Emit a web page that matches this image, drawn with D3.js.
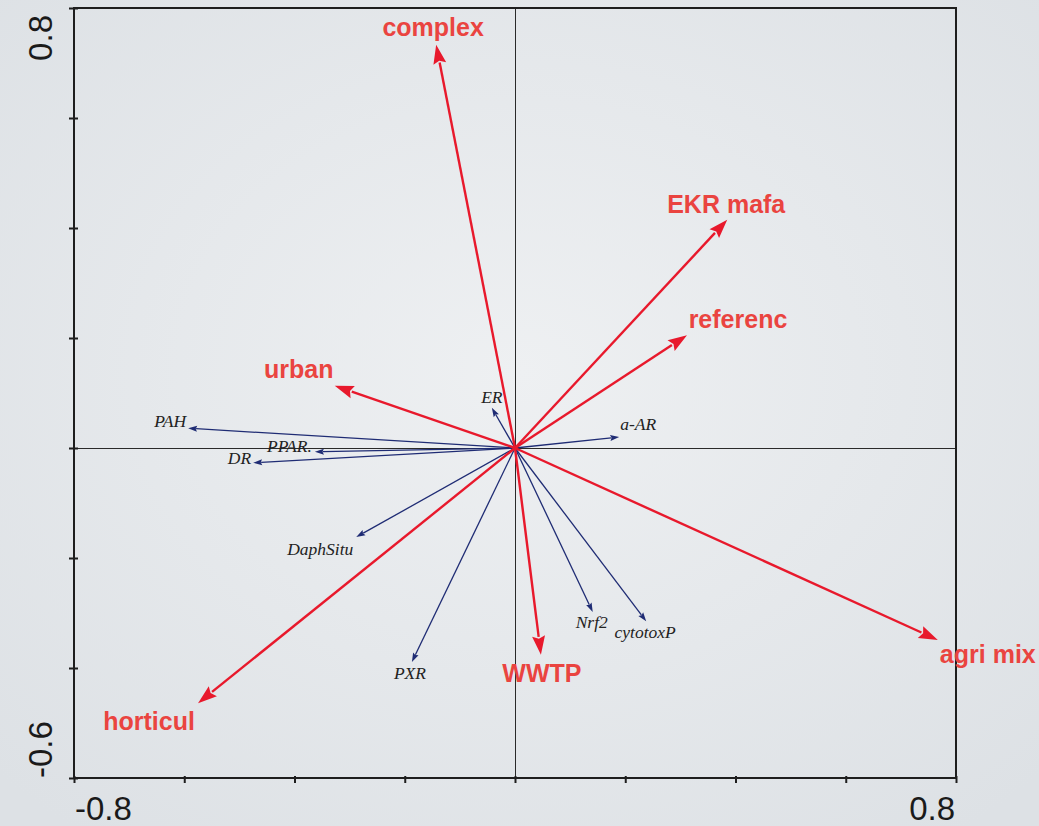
<!DOCTYPE html>
<html><head><meta charset="utf-8">
<script src="https://cdn.jsdelivr.net/npm/d3@7"></script>
<style>html,body{margin:0;padding:0;background:#e4e7ea;overflow:hidden}</style>
</head><body>
<svg id="chart" width="1039" height="826"></svg>
<script>
// ---- data ----
const envNames = ["complex","EKR mafa","referenc","urban","horticul","WWTP","agri mix"];
const envX = [-0.143, 0.385, 0.312, -0.327, -0.575, 0.047, 0.767];
const envY = [0.733, 0.415, 0.205, 0.113, -0.464, -0.376, -0.349];

const respNames = ["PAH","PPAR.","DR","ER","a-AR","DaphSitu","PXR","Nrf2","cytotoxP"];
const respX = [-0.593, -0.363, -0.475, -0.042, 0.189, -0.288, -0.187, 0.141, 0.238];
const respY = [0.036, -0.007, -0.027, 0.073, 0.020, -0.162, -0.389, -0.298, -0.315];

const xTicks = [-0.8,-0.6,-0.4,-0.2,0,0.2,0.4,0.6,0.8];
const yTicks = [-0.6,-0.4,-0.2,0,0.2,0.4,0.6,0.8];
const xTickLabels = ["-0.8","0.8"];
const yTickLabels = ["-0.6","0.8"];

// ---- drawing ----
const svg = d3.select("#chart");
const defs = svg.append("defs");
const grad = defs.append("radialGradient").attr("id","bg").attr("cx","50%").attr("cy","45%").attr("r","70%");
grad.append("stop").attr("offset","0%").attr("stop-color","#eef0f2");
grad.append("stop").attr("offset","100%").attr("stop-color","#dde1e5");
svg.append("rect").attr("width",1039).attr("height",826).attr("fill","url(#bg)");

const L=74, R=956, T=8, B=778;
const x = d3.scaleLinear().domain([-0.8,0.8]).range([L,R]);
const y = d3.scaleLinear().domain([-0.6,0.8]).range([B,T]);

// zero lines (half-pixel aligned for crispness)
svg.append("line").attr("x1",x(0)+0.5).attr("x2",x(0)+0.5).attr("y1",T).attr("y2",B).attr("stroke","#2a2a2a").attr("stroke-width",1);
svg.append("line").attr("x1",L).attr("x2",R).attr("y1",y(0)+0.5).attr("y2",y(0)+0.5).attr("stroke","#2a2a2a").attr("stroke-width",1);

// frame
svg.append("rect").attr("x",L).attr("y",T).attr("width",R-L).attr("height",B-T)
  .attr("fill","none").attr("stroke","#1e1e1e").attr("stroke-width",2);

// axes ticks
const xAxis = d3.axisBottom(x).tickValues(xTicks).tickSize(5).tickFormat("");
const gx = svg.append("g").attr("transform",`translate(0,${B})`).call(xAxis);
gx.select(".domain").remove();
gx.selectAll(".tick line").attr("y1",-2).attr("y2",5).attr("stroke","#1e1e1e").attr("stroke-width",2);
const yAxis = d3.axisLeft(y).tickValues(yTicks).tickSize(5).tickFormat("");
const gy = svg.append("g").attr("transform",`translate(${L},0)`).call(yAxis);
gy.select(".domain").remove();
gy.selectAll(".tick line").attr("x1",4).attr("x2",-5).attr("stroke","#1e1e1e").attr("stroke-width",2);

// tick labels
const tickFont = "'Liberation Sans', Arial, Helvetica, sans-serif";
svg.append("text").attr("x",x(-0.8)+1).attr("y",820).attr("text-anchor","start")
  .attr("font-family",tickFont).attr("font-size",33).attr("fill","#1a1a1a").text(xTickLabels[0]);
svg.append("text").attr("x",x(0.8)-1).attr("y",820).attr("text-anchor","end")
  .attr("font-family",tickFont).attr("font-size",33).attr("fill","#1a1a1a").text(xTickLabels[1]);
svg.append("text").attr("transform",`translate(52,${y(-0.6)}) rotate(-90)`).attr("text-anchor","start")
  .attr("font-family",tickFont).attr("font-size",33).attr("fill","#1a1a1a").text(yTickLabels[0]);
svg.append("text").attr("transform",`translate(52,${y(0.8)+7}) rotate(-90)`).attr("text-anchor","end")
  .attr("font-family",tickFont).attr("font-size",33).attr("fill","#1a1a1a").text(yTickLabels[1]);

// arrow helper
function arrow(g, x1,y1,x2,y2, color, w, hl, hw){
  const dx=x2-x1, dy=y2-y1, len=Math.hypot(dx,dy), ux=dx/len, uy=dy/len;
  const bx=x2-ux*hl, by=y2-uy*hl;
  g.append("line").attr("x1",x1).attr("y1",y1).attr("x2",bx+ux*1).attr("y2",by+uy*1)
    .attr("stroke",color).attr("stroke-width",w);
  const px=-uy, py=ux;
  g.append("path").attr("d",`M${x2},${y2}L${bx+px*hw/2},${by+py*hw/2}L${bx+ux*hl*0.15},${by+uy*hl*0.15}L${bx-px*hw/2},${by-py*hw/2}Z`)
    .attr("fill",color);
}

// response (blue) arrows
const gb = svg.append("g");
const blueOff = {
  "PAH":[-2,-1,"end"], "PPAR.":[-3,0,"end"], "DR":[-2,1,"end"], "ER":[0,-5,"middle"],
  "a-AR":[1,-7,"start"], "DaphSitu":[-36,18,"middle"], "PXR":[-2,17,"middle"],
  "Nrf2":[-1,16,"middle"], "cytotoxP":[-1,17,"middle"]
};
respNames.forEach((n,i)=>{
  const tx=x(respX[i]), ty=y(respY[i]);
  arrow(gb, x(0), y(0), tx, ty, "#1f2c74", 1.3, 9, 6);
  const o=blueOff[n];
  gb.append("text").attr("x",tx+o[0]).attr("y",ty+o[1]).attr("text-anchor",o[2])
    .attr("font-family","'Liberation Serif','Times New Roman',serif").attr("font-style","italic")
    .attr("font-size",17.5).attr("fill","#222").text(n);
});

// environmental (red) arrows
const gr = svg.append("g");
const redOff = {
  "complex":[-3,-9], "EKR mafa":[-1,-7], "referenc":[51,-7], "urban":[-36,-8],
  "horticul":[-49,27], "WWTP":[1,27], "agri mix":[50,23]
};
envNames.forEach((n,i)=>{
  const tx=x(envX[i]), ty=y(envY[i]);
  arrow(gr, x(0), y(0), tx, ty, "#e8192c", 2.4, 19, 13);
  const o=redOff[n];
  gr.append("text").attr("x",tx+o[0]).attr("y",ty+o[1]).attr("text-anchor","middle")
    .attr("font-family","'Liberation Sans', Arial, Helvetica, sans-serif").attr("font-weight","bold")
    .attr("font-size",25).attr("fill","#ea4440").text(n);
});
</script>
</body></html>
